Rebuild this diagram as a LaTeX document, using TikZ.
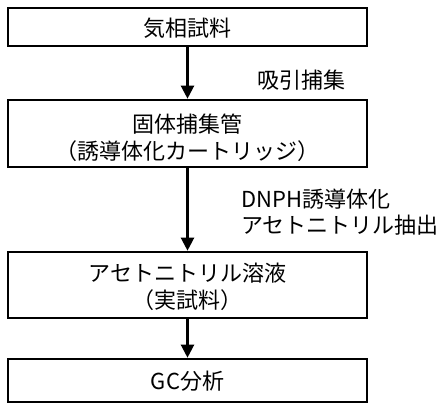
\documentclass[tikz,border=0pt]{standalone}
\usepackage{fontspec}
\setmainfont{Noto Sans CJK JP}
\usetikzlibrary{arrows.meta}
\begin{document}
\begin{tikzpicture}[x=1pt,y=-1pt,
  box/.style={draw,line width=2.6pt,inner sep=0pt},
  txt/.style={font=\fontsize{22}{27}\selectfont,align=center},
  lbl/.style={font=\fontsize{22}{26}\selectfont,align=left,anchor=west,inner sep=0pt},
  arr/.style={line width=2.2pt,-{Triangle[length=13pt,width=13pt]}}]
\useasboundingbox (0,0) rectangle (441,403);
\node[box,minimum width=359pt,minimum height=38pt] (b1) at (187.5,27) {};
\node[txt] at (187.5,28) {気相試料};
\node[box,minimum width=359pt,minimum height=67pt] (b2) at (187.5,133.5) {};
\node[txt] at (187.5,137.5) {固体捕集管\\（誘導体化カートリッジ）};
\node[box,minimum width=359pt,minimum height=66pt] (b3) at (187.5,285) {};
\node[txt] at (187.5,286.5) {アセトニトリル溶液\\（実試料）};
\node[box,minimum width=359pt,minimum height=43pt] (b4) at (187.5,380.5) {};
\node[txt] at (187.5,381) {GC分析};
\draw[arr] (b1.south) -- (b2.north);
\draw[arr] (b2.south) -- (b3.north);
\draw[arr] (b3.south) -- (b4.north);
\node[lbl] (l1) at (257,80) {吸引捕集};
\node[lbl] (l2) at (241,212.5) {DNPH誘導体化\\アセトニトリル抽出};
\end{tikzpicture}
\end{document}
